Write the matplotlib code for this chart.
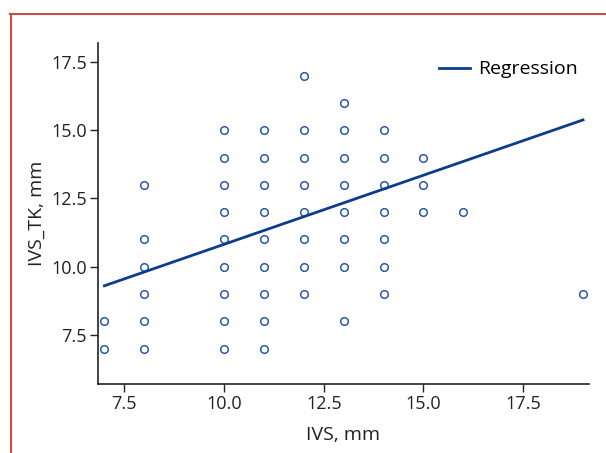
import matplotlib.pyplot as plt
from matplotlib.lines import Line2D

ivs_x = [7, 7,
         8, 8, 8, 8, 8, 8,
         10, 10, 10, 10, 10, 10, 10, 10, 10,
         11, 11, 11, 11, 11, 11, 11, 11, 11,
         12, 12, 12, 12, 12, 12, 12, 12,
         13, 13, 13, 13, 13, 13, 13, 13,
         14, 14, 14, 14, 14, 14, 14,
         15, 15, 15,
         16,
         19]
ivs_tk_y = [8, 7,
            13, 11, 10, 9, 8, 7,
            15, 14, 13, 12, 11, 10, 9, 8, 7,
            15, 14, 13, 12, 11, 10, 9, 8, 7,
            17, 15, 14, 13, 12, 11, 10, 9,
            16, 15, 14, 13, 12, 11, 10, 8,
            15, 14, 13, 12, 11, 10, 9,
            14, 13, 12,
            12,
            9]
regression_x = [7, 19]
regression_y = [9.3, 15.38]
tick_values = [7.5, 10.0, 12.5, 15.0, 17.5]
tick_labels = ['7.5', '10.0', '12.5', '15.0', '17.5']

plt.rcParams['font.family'] = ['Open Sans', 'DejaVu Sans']

fig = plt.figure(figsize=(6.06, 4.53), dpi=100)
ax = fig.add_axes([98 / 606, 1 - 384 / 453, (589 - 98) / 606, (384 - 43) / 453])

ax.plot(ivs_x, ivs_tk_y, 'o', markersize=5.5, markerfacecolor='none',
        markeredgecolor='#2a5aa6', markeredgewidth=1.1, linestyle='none')
ax.plot(regression_x, regression_y, color='#0b3d8c', linewidth=2, label='Regression')

ax.set_xlim(6.84, 19.15)
ax.set_ylim(5.7, 18.2)
ax.set_xticks(tick_values)
ax.set_yticks(tick_values)
ax.set_xticklabels(tick_labels)
ax.set_yticklabels(tick_labels)
ax.tick_params(direction='out', length=6, width=1, labelsize=13, colors='#222222', pad=2)
for side in ['top', 'right']:
    ax.spines[side].set_visible(False)
for side in ['left', 'bottom']:
    ax.spines[side].set_linewidth(1.2)
    ax.spines[side].set_color('#222222')

ax.set_xlabel('IVS, mm', fontsize=14, color='#222222', labelpad=9)
ax.set_ylabel('IVS_TK, mm', fontsize=14, color='#222222', labelpad=4)
ax.legend(loc='upper right', frameon=False, fontsize=14, handlelength=1.6,
          handletextpad=0.4, bbox_to_anchor=(1.012, 1.0))

# red frame, only top and left are visible in the reference
fig.add_artist(Line2D([10 / 606, 1], [1 - 14 / 453, 1 - 14 / 453], color='#c0504d', linewidth=1.5))
fig.add_artist(Line2D([10.5 / 606, 10.5 / 606], [0, 1 - 14 / 453], color='#c0504d', linewidth=1.5))

fig.savefig('out.png', dpi=100)
